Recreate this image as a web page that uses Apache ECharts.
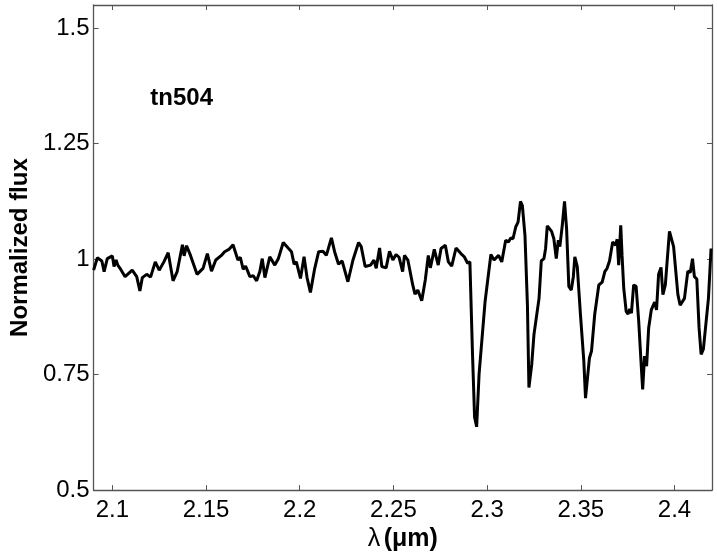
<!DOCTYPE html>
<html>
<head>
<meta charset="utf-8">
<script src="https://cdn.jsdelivr.net/npm/echarts@6/dist/echarts.min.js"></script>
<style>
  html, body { margin: 0; padding: 0; background: #fff; }
  #chart { width: 717px; height: 557px; }
</style>
</head>
<body>
<div id="chart"></div>
<script>
// wavelength (um) and normalized flux
const wavelength = [
  2.090, 2.092, 2.0944, 2.0956, 2.0973, 2.1000, 2.1009, 2.1020, 2.1029, 2.1041,
  2.1068, 2.1106, 2.1130, 2.1147, 2.1160, 2.1183, 2.1204, 2.1229, 2.1250, 2.1275,
  2.1298, 2.1324, 2.1346, 2.1374, 2.1383, 2.1396, 2.1417, 2.1452, 2.1484, 2.1507,
  2.1529, 2.1552, 2.1582, 2.1599, 2.1622, 2.1644, 2.1670, 2.1683, 2.1698, 2.1711,
  2.1734, 2.1752, 2.1770, 2.1787, 2.1800, 2.1814, 2.1840, 2.1867, 2.1885, 2.1912,
  2.1938, 2.1956, 2.1970, 2.1982, 2.2004, 2.2023, 2.2039, 2.2057, 2.2080, 2.2101,
  2.2124, 2.2142, 2.2169, 2.2186, 2.2207, 2.2226, 2.2257, 2.2284, 2.2314, 2.2328,
  2.2349, 2.2378, 2.2396, 2.2408, 2.2426, 2.2438, 2.2461, 2.2479, 2.2497, 2.2514,
  2.2530, 2.2549, 2.2559, 2.2577, 2.2603, 2.2615, 2.2630, 2.2651, 2.2670, 2.2686,
  2.2697, 2.2718, 2.2739, 2.2754, 2.2777, 2.2793, 2.2811, 2.2834, 2.2860, 2.2878,
  2.2896, 2.2908, 2.2922, 2.2933, 2.2944, 2.2957, 2.2989, 2.3020, 2.3037, 2.3061,
  2.3078, 2.3099, 2.3114, 2.3126, 2.3138, 2.3153, 2.3165, 2.3178, 2.3188, 2.3202,
  2.3215, 2.3223, 2.3238, 2.3250, 2.3277, 2.3289, 2.3303, 2.3312, 2.3321, 2.3344,
  2.3356, 2.3369, 2.3380, 2.3388, 2.3401, 2.3413, 2.3424, 2.3436, 2.3449, 2.3460,
  2.3468, 2.3481, 2.3498, 2.3516, 2.3525, 2.3534, 2.3546, 2.3557, 2.3574, 2.3596,
  2.3614, 2.3628, 2.3640, 2.3653, 2.3663, 2.3670, 2.3685, 2.3694, 2.3702, 2.3713,
  2.3720, 2.3729, 2.3742, 2.3752, 2.3761, 2.3770, 2.3782, 2.3795, 2.3809, 2.3823,
  2.3830, 2.3840, 2.3851, 2.3862, 2.3876, 2.3894, 2.3904, 2.3915, 2.3928, 2.3938,
  2.3951, 2.3963, 2.3973, 2.3982, 2.3995, 2.4004, 2.4018, 2.4030, 2.4053, 2.4071,
  2.4084, 2.4096, 2.4106, 2.4119, 2.4131, 2.4142, 2.4154, 2.4163, 2.4181, 2.4195
];
const flux = [
  0.976, 1.003, 0.996, 0.973, 1.001, 1.007, 0.984, 0.998, 0.987, 0.980,
  0.962, 0.976, 0.962, 0.931, 0.960, 0.967, 0.961, 0.994, 0.976, 0.994,
  1.014, 0.953, 0.973, 1.031, 1.007, 1.029, 1.008, 0.967, 0.980, 1.012,
  0.974, 0.998, 1.008, 1.016, 1.021, 1.031, 0.998, 1.004, 0.978, 0.985,
  0.962, 0.964, 0.953, 0.973, 1.001, 0.960, 1.005, 0.987, 1.000, 1.036,
  1.024, 1.016, 0.989, 0.994, 0.958, 1.005, 0.960, 0.928, 0.980, 1.016,
  1.017, 1.008, 1.046, 1.016, 0.989, 0.996, 0.951, 0.998, 1.036, 1.027,
  0.984, 0.987, 0.998, 0.980, 1.024, 0.984, 0.981, 1.017, 0.998, 1.010,
  1.004, 0.973, 1.008, 0.998, 0.944, 0.924, 0.933, 0.910, 0.955, 1.008,
  0.981, 1.021, 0.987, 1.023, 1.030, 0.994, 0.985, 1.024, 1.012, 1.005,
  0.991, 0.994, 0.794, 0.658, 0.637, 0.751, 0.908, 1.010, 0.998, 1.008,
  0.994, 1.041, 1.037, 1.046, 1.044, 1.070, 1.080, 1.125, 1.116, 1.051,
  0.901, 0.722, 0.772, 0.837, 0.915, 0.996, 1.001, 1.023, 1.072, 1.060,
  1.044, 1.001, 1.041, 1.027, 1.073, 1.125, 1.066, 0.941, 0.933, 0.962,
  1.005, 0.984, 0.880, 0.779, 0.699, 0.701, 0.786, 0.801, 0.880, 0.944,
  0.950, 0.973, 0.980, 0.996, 1.000, 1.037, 1.030, 1.043, 0.987, 1.073,
  1.008, 0.937, 0.887, 0.881, 0.892, 0.883, 0.944, 0.941, 0.865, 0.765,
  0.718, 0.790, 0.768, 0.851, 0.890, 0.907, 0.890, 0.967, 0.982, 0.923,
  0.944, 1.008, 1.060, 1.064, 1.027, 1.024, 0.923, 0.900, 0.915, 0.974,
  0.971, 1.001, 0.962, 0.957, 0.851, 0.794, 0.805, 0.805, 0.915, 1.023
];
const xTicks = [2.1, 2.15, 2.2, 2.25, 2.3, 2.35, 2.4];
const yTicks = [0.5, 0.75, 1, 1.25, 1.5];
const starName = "tn504";
const starPos = [2.137, 1.347];

const chart = echarts.init(document.getElementById("chart"));
const font = "Liberation Sans, Arial, Helvetica, sans-serif";
const frame = "#555";

const points = wavelength.map((w, i) => [w, flux[i]]);

const xBase = {
  type: "value",
  min: 2.09,
  max: 2.42,
  splitLine: { show: false },
  axisLine: { show: true, onZero: false, lineStyle: { color: frame, width: 1.3 } },
  axisTick: { show: true, inside: true, length: 5, customValues: xTicks, lineStyle: { color: frame } },
};
const yBase = {
  type: "value",
  min: 0.5,
  max: 1.55,
  splitLine: { show: false },
  axisLine: { show: true, onZero: false, lineStyle: { color: frame, width: 1.3 } },
  axisTick: { show: true, inside: true, length: 5, customValues: yTicks, lineStyle: { color: frame } },
};

chart.setOption({
  animation: false,
  backgroundColor: "#fff",
  grid: { left: 91, right: 5, top: 5, bottom: 64, containLabel: false },
  xAxis: [
    {
      ...xBase,
      position: "bottom",
      name: "{l|λ} {b|(μm)}",
      nameLocation: "middle",
      nameGap: 33,
      nameTextStyle: {
        rich: {
          l: { fontFamily: font, fontSize: 25, color: "#000" },
          b: { fontFamily: font, fontSize: 25, fontWeight: "bold", color: "#000" },
        },
      },
      axisLabel: {
        customValues: xTicks,
        margin: 8,
        fontFamily: font,
        fontSize: 24,
        color: "#000",
      },
    },
    { ...xBase, position: "top", axisLabel: { show: false } },
  ],
  yAxis: [
    {
      ...yBase,
      position: "left",
      name: "Normalized flux",
      nameLocation: "middle",
      nameGap: 60,
      nameTextStyle: { fontFamily: font, fontSize: 24, fontWeight: "bold", color: "#000" },
      axisLabel: {
        customValues: yTicks,
        margin: 4,
        fontFamily: font,
        fontSize: 24,
        color: "#000",
      },
    },
    { ...yBase, position: "right", axisLabel: { show: false } },
  ],
  series: [
    {
      type: "line",
      data: points,
      showSymbol: false,
      smooth: false,
      lineStyle: { color: "#000", width: 3 },
      itemStyle: { color: "#000" },
      markPoint: {
        symbol: "circle",
        symbolSize: 0,
        silent: true,
        label: {
          show: true,
          position: "inside",
          formatter: starName,
          fontFamily: font,
          fontSize: 24,
          fontWeight: "bold",
          color: "#000",
        },
        data: [{ coord: starPos }],
      },
    },
  ],
});
</script>
</body>
</html>
